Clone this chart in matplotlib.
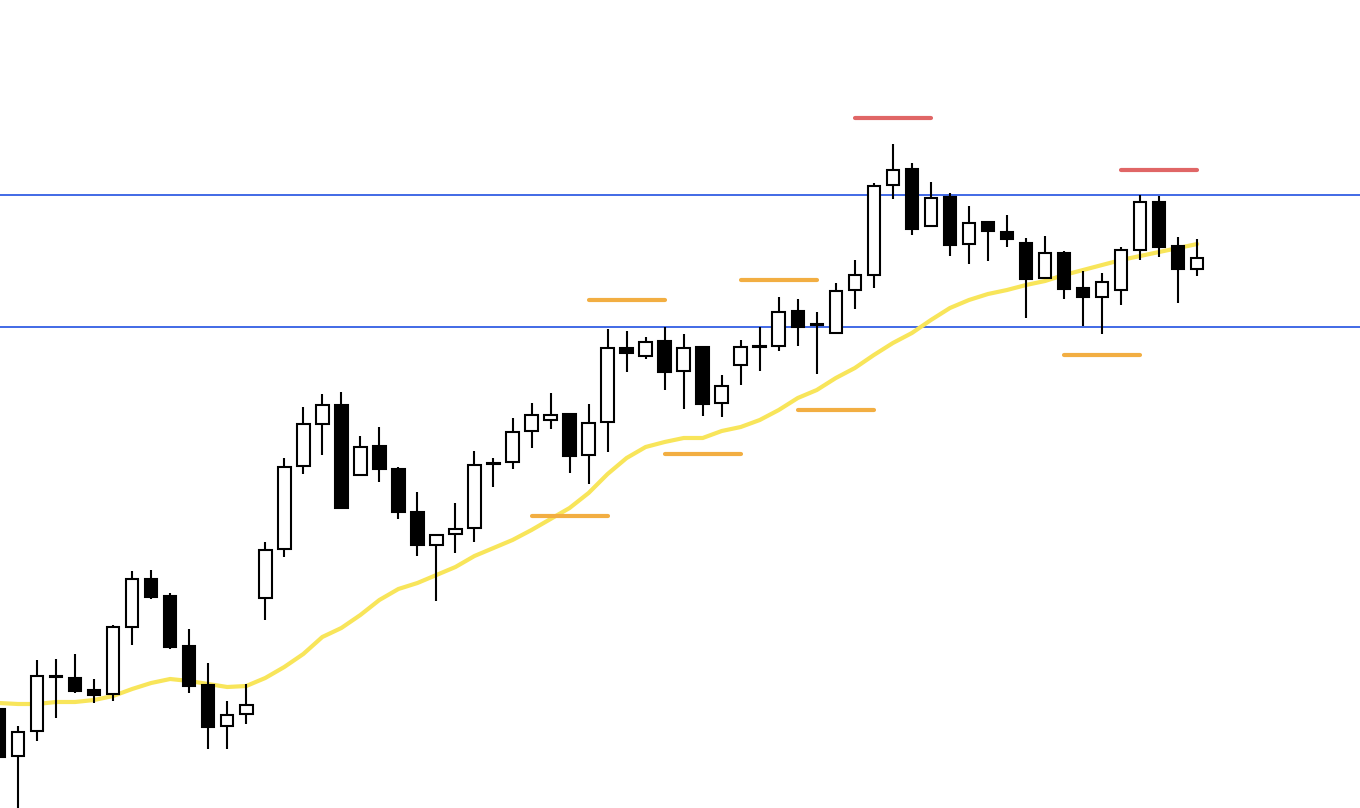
#!/usr/bin/python

# Candlestick chart with moving average and marked levels

import numpy as np
import matplotlib
matplotlib.use("Agg")
import matplotlib.pyplot as plt

##########################################################
#. Data (price levels):
##########################################################
opens = [99, 52, 77, 131, 130, 118, 114, 181, 229, 212, 162, 123, 82, 94, 210, 259,
         342, 384, 403, 333, 362, 339, 296, 263, 274, 280, 344, 346, 377, 388, 394, 353,
         386, 460, 452, 467, 437, 461, 405, 443, 461, 462, 497, 483, 475, 518, 533, 623,
         639, 582, 611, 564, 586, 576, 565, 530, 555, 520, 511, 518, 558, 606, 562, 539]
highs = [103, 82, 148, 149, 154, 129, 183, 237, 238, 215, 179, 145, 107, 124, 266, 350,
         401, 414, 416, 372, 381, 341, 316, 273, 305, 357, 350, 390, 405, 415, 394, 404,
         479, 477, 471, 481, 474, 462, 433, 468, 481, 511, 509, 496, 525, 548, 625, 664,
         645, 626, 615, 602, 586, 593, 570, 572, 557, 537, 535, 561, 613, 612, 571, 569]
lows = [48, -4, 67, 90, 115, 105, 107, 163, 209, 159, 115, 59, 59, 84, 188, 251,
        334, 353, 300, 333, 326, 289, 252, 207, 255, 266, 321, 339, 360, 379, 335, 324,
        356, 436, 449, 418, 399, 392, 391, 423, 437, 457, 462, 434, 475, 499, 520, 609,
        573, 582, 552, 544, 547, 561, 490, 530, 509, 482, 474, 503, 548, 551, 505, 532]
closes = [51, 76, 132, 132, 117, 113, 181, 229, 211, 161, 122, 81, 93, 103, 258, 341,
          384, 403, 300, 361, 339, 296, 263, 273, 279, 343, 345, 376, 393, 393, 352, 385,
          460, 455, 466, 436, 460, 404, 422, 461, 462, 496, 481, 484, 517, 533, 622, 638,
          579, 610, 563, 585, 577, 569, 529, 555, 519, 511, 526, 558, 606, 561, 539, 550]

# -- moving average
ma = [105, 104, 104, 106, 106, 108, 112, 119, 125, 129, 127, 124, 121, 122, 130, 141,
      154, 171, 180, 193, 208, 219, 225, 233, 241, 252, 260, 268, 278, 289, 300, 315,
      334, 350, 361, 366, 370, 370, 377, 381, 388, 398, 410, 418, 430, 440, 453, 465,
      475, 488, 500, 508, 514, 518, 523, 527, 533, 538, 543, 548, 552, 556, 560, 564]

# -- horizontal range lines (full width)
range_levels = [613.5, 481]

# -- short level marks: (level, first candle, last candle)
red_marks = [(690, 45, 49), (638, 59, 63)]
orange_marks = [(508, 31, 35), (528, 39, 43), (292, 28, 32),
                (354, 35, 39), (398, 42, 46), (453, 56, 60)]

##########################################################
#. Plot:
##########################################################
fig = plt.figure(figsize=(13.6, 8.08), dpi=100)
ax = fig.add_axes([0, 0, 1, 1])
ax.axis('off')

idx = np.arange(len(opens))
o = np.array(opens)
h = np.array(highs)
l = np.array(lows)
c = np.array(closes)
up = c >= o

# -- blue range lines
for lvl in range_levels:
    ax.axhline(lvl, color='#4169e6', lw=1.4, zorder=1)

# -- moving average
ax.plot(idx, ma, color='#f8e55a', lw=3.0, zorder=2, solid_capstyle='round')

# -- level marks
for lvl, a, b in red_marks:
    ax.plot([a, b], [lvl, lvl], color='#e06666', lw=3.0, solid_capstyle='round', zorder=3)
for lvl, a, b in orange_marks:
    ax.plot([a, b], [lvl, lvl], color='#f2ae42', lw=3.0, solid_capstyle='round', zorder=3)

# -- candles
ax.vlines(idx, l, h, color='black', lw=1.5, zorder=4)
body_lo = np.minimum(o, c)
body_h = np.maximum(np.abs(c - o), 0.8)
ax.bar(idx, body_h, bottom=body_lo, width=0.66,
       color=np.where(up, 'white', 'black'), edgecolor='black', linewidth=1.5, zorder=5)

ax.set_xlim(0.053, 71.56)
ax.set_ylim(0, 808)

fig.savefig('out.png', dpi=100)
